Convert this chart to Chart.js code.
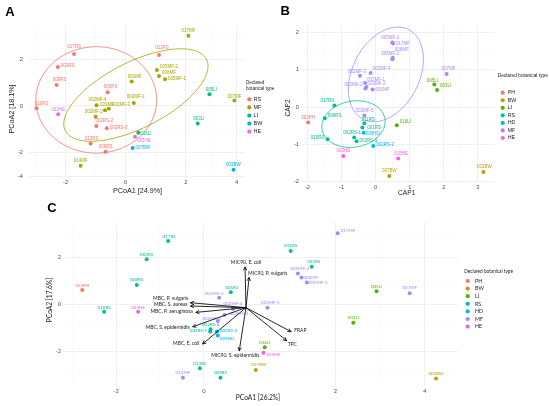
<!DOCTYPE html>
<html>
<head>
<meta charset="utf-8">
<title>Ordination of samples by declared botanical type</title>
<script src="https://cdn.jsdelivr.net/npm/chart.js@4.4.1/dist/chart.umd.min.js"></script>
<style>
  html, body { margin: 0; padding: 0; background: #fff; }
  #wrap { position: relative; width: 550px; height: 406px; overflow: hidden; }
  canvas { position: absolute; }
</style>
</head>
<body>
<div id="wrap">
  <canvas id="panelA" width="275" height="200" style="left:0;top:0"></canvas>
  <canvas id="panelB" width="275" height="200" style="left:275px;top:0"></canvas>
  <canvas id="panelC" width="550" height="206" style="left:0;top:200px"></canvas>
</div>
<script>
// ---------- panel A : PCoA ----------
const aTypes = ['RS', 'MF', 'LI', 'BW', 'HE'];
const aNames = ['017RS', '003RS', '009RS', '010RS', '005RS', '002RS-2', '002RS-3', '013RS', '009RS', '011RS',
  '017MF', '005MF-2', '006MF', '005MF-1', '001MF', '002MF-1', '002MF-4', '003MF', '002MF-3', '002MF-2', '007MF', '014MF',
  '005LI', '003LI', '016LI', '003BW', '007BW', '003HE', '015HE'];
const aGroup = ['RS', 'RS', 'RS', 'RS', 'RS', 'RS', 'RS', 'RS', 'RS', 'RS',
  'MF', 'MF', 'MF', 'MF', 'MF', 'MF', 'MF', 'MF', 'MF', 'MF', 'MF', 'MF',
  'LI', 'LI', 'LI', 'BW', 'BW', 'HE', 'HE'];
const aX = [-1.72, -2.26, -2.30, -2.97, -0.60, -0.98, -0.63, -1.17, -0.67, 1.11,
  2.09, 1.04, 1.11, 1.31, 0.20, 0.27, -0.97, -0.69, -0.56, -1.00, 3.62, -1.50,
  2.79, 2.40, 0.42, 3.59, 0.23, -2.25, 0.31];
const aY = [2.24, 1.68, 0.90, -0.10, 0.59, -0.86, -0.96, -1.62, -1.97, 2.19,
  3.02, 1.55, 1.29, 1.15, 1.05, 0.13, 0.03, -0.19, -0.12, -0.47, 0.23, -2.57,
  0.50, -0.76, -1.15, -2.75, -1.81, -0.36, -1.33];
const aXRange = [-3.22, 3.94];
const aYRange = [-3.10, 3.44];
const aXTicks = [-2, 0, 2, 3.69];
const aXTickLabels = ['-2', '0', '2', '4'];
const aYTicks = [-3.03, -2, 0, 2];
const aYTickLabels = ['-4', '-2', '0', '2'];
// confidence ellipses: centre and two half axes, in axis units
const aEllType = ['RS', 'MF'];
const aEllCentre = [[-0.98, 0.26], [0.34, 0.47]];
const aEllAxis1 = [[2.01, 0], [2.35, 1.54]];
const aEllAxis2 = [[0, 2.29], [0.50, -1.26]];

// ---------- panel B : CAP ----------
const bTypes = ['PH', 'BW', 'LI', 'RS', 'HD', 'MF', 'HE'];
const bNames = ['003PH', '007BW', '003BW', '005LI', '003LI', '016LI',
  '017RS', '009RS', '010RS', '011RS', '001RS', '002RS-1', '002RS-3', '009HD', '002RS-2',
  '005MF-1', '017MF', '006MF', '005MF-2', '002MF-4', '002MF-3', '002MF-1', '002MF-2', '003MF-2', '001MF', '007MF', '002MF-5',
  '003HE', '015HE'];
const bGroup = ['PH', 'BW', 'BW', 'LI', 'LI', 'LI',
  'RS', 'RS', 'RS', 'RS', 'RS', 'RS', 'RS', 'HD', 'HD',
  'MF', 'MF', 'MF', 'MF', 'MF', 'MF', 'MF', 'MF', 'MF', 'MF', 'MF', 'MF',
  'HE', 'HE'];
const bX = [-1.98, 0.40, 3.16, 1.72, 1.80, 0.62,
  -1.21, -1.49, -1.41, -0.33, -0.39, -0.63, -0.56, -0.35, -0.07,
  0.49, 0.51, 0.50, 0.49, -0.15, -0.46, -0.31, -0.30, -0.27, -0.09, 2.08, -0.33,
  -0.95, 0.66];
const bY = [-0.42, -1.86, -1.75, 0.61, 0.46, -0.49,
  0.04, -0.30, -0.87, -0.44, -0.55, -0.82, -0.92, -0.69, -1.05,
  1.74, 1.71, 1.33, 1.29, 0.92, 0.84, 0.65, 0.50, 0.54, 0.47, 0.89, -0.23,
  -1.32, -1.39];
const bXRange = [-2.16, 3.50];
const bYRange = [-2.02, 2.21];
const bXTicks = [-2, -1, 0, 1, 2, 3];
const bXTickLabels = ['-2', '-1', '0', '1', '2', '3'];
const bYTicks = [-2, -1, 0, 1, 2];
const bYTickLabels = ['-2', '-1', '0', '1', '2'];
const bEllType = ['MF', 'RS'];
const bEllCentre = [[0.30, 0.88], [-0.65, -0.46]];
const bEllAxis1 = [[0.66, 1.21], [0.92, 0.15]];
const bEllAxis2 = [[0.88, -0.40], [0.12, -0.61]];

// ---------- panel C : PCoA biplot ----------
const cTypes = ['PH', 'BW', 'LI', 'RS', 'HD', 'MF', 'HE'];
const cNames = ['003PH', '017RS', '003RS', '009RS', '010RS', '005RS', '011RS', '001RS', '002RS-3', '002RS-1', '013RS', '009RS',
  '002RS-2', '009HD',
  '017MF', '005MF-2', '006MF', '005MF-1', '007MF', '002MF-5', '002MF-4', '002MF-1', '002MF-3', '002MF-2', '014MF',
  '005LI', '003LI', '016LI', '007BW', '003BW', '003HE', '015HE'];
const cGroup = ['PH', 'RS', 'RS', 'RS', 'RS', 'RS', 'RS', 'RS', 'RS', 'RS', 'RS', 'RS',
  'HD', 'HD',
  'MF', 'MF', 'MF', 'MF', 'MF', 'MF', 'MF', 'MF', 'MF', 'MF', 'MF',
  'LI', 'LI', 'LI', 'BW', 'BW', 'HE', 'HE'];
const cX = [-3.66, -1.74, -2.22, -2.44, -3.17, -0.34, 1.00, 1.47, -0.79, -0.80, -1.03, -0.57,
  -0.65, -0.63,
  2.05, 1.16, 1.24, 1.36, 3.66, -0.60, -0.29, 0.48, -0.48, -0.63, -1.41,
  2.92, 2.40, 0.42, 0.22, 4.25, -2.41, 0.39];
const cY = [0.61, 2.68, 1.91, 0.82, -0.31, 0.51, 2.26, 1.59, -1.06, -1.15, -2.71, -3.11,
  -1.15, -1.32,
  3.01, 1.31, 1.14, 0.93, 0.47, 0.28, -0.20, -0.14, -0.45, -0.71, -3.11,
  0.56, -0.78, -1.82, -2.78, -3.14, -0.31, -2.05];
const cXRange = [-4.09, 4.74];
const cYRange = [-3.46, 3.49];
const cXTicks = [-2.905, -0.939, 2, 4];
const cXTickLabels = ['-2', '0', '2', '4'];
const cYTicks = [-2, 0, 2];
const cYTickLabels = ['-2', '0', '2'];
// fitted variable vectors (arrow tips) and their common origin
const cArrowNames = ['MIC90, E. coli', 'MIC90, P. vulgaris', 'MBC, P. vulgaris', 'MBC, S. aureus', 'MBC, P. aeruginosa',
  'MBC, S. epidermidis', 'MBC, E. coli', 'MIC90, S. epidermidis', 'FRAP', 'TPC'];
const cArrowX = [-0.02, 0.07, -1.24, -1.24, -1.12, -1.19, -0.97, -0.15, 1.01, 0.91];
const cArrowY = [1.59, 1.14, 0.07, -0.07, -0.34, -0.95, -1.68, -1.97, -1.16, -1.54];
const cArrowOrigin = [0, -0.14];

// ---------- colours and label placement (px offsets from the mark) ----------
const colorsA = ['#F8766D', '#A3A500', '#00BF7D', '#00B0F6', '#E76BF3'];
const colorsBC = ['#F8766D', '#C49A00', '#53B400', '#00C094', '#00B6EB', '#A58AFF', '#FB61D7'];

const aLabelAt = [[0, -7, 'c'], [3, -1, 'l'], [3, -5, 'c'], [5, -5, 'c'], [3, -5, 'c'], [8, -5, 'c'], [3, 0, 'l'], [1, -5, 'c'], [0, -5, 'c'], [3, -7, 'c'],
  [0, -5, 'c'], [3, -3, 'l'], [3, -3, 'l'], [3, 0, 'l'], [3, -5, 'c'], [2, -6, 'c'], [1, -5, 'c'], [2, -6, 'c'], [3, -4, 'l'], [-2, -5, 'c'], [0, -4, 'c'], [0, -5, 'c'],
  [2, -5, 'c'], [1, -5, 'c'], [2, 1, 'l'], [0, -5, 'c'], [3, 0, 'l'], [0, -5, 'c'], [2, 4, 'l']];
const bLabelAt = [[0, -5, 'c'], [0, -5, 'c'], [1, -5, 'c'], [-2, -4, 'c'], [3, -4, 'l'], [3, -3, 'l'],
  [-7, -5, 'c'], [3, -2, 'l'], [-3, -2, 'r'], [4, -4, 'c'], [5, 0, 'l'], [-2, -5, 'c'], [3, 0, 'l'], [2, 1, 'l'], [3, -1, 'l'],
  [-2, -5, 'c'], [3, 0, 'l'], [2, -8, 'l'], [-2, -5, 'c'], [2, -4, 'l'], [-3, -4, 'c'], [2, -3, 'l'], [-3, -4, 'r'], [1, -3, 'l'], [3, 0, 'l'], [2, -5, 'c'], [0, -5, 'c'],
  [0, -5, 'c'], [3, -5, 'c']];
const cLabelAt = [[0, -4.5, 'c'], [1, -5, 'c'], [0, -5, 'c'], [0, -5, 'c'], [0, -4.5, 'c'], [1, -5, 'c'], [0, -5, 'c'], [2, -5, 'c'], [0, -4.5, 'c'], [-3, -0.5, 'r'], [0, -5, 'c'], [0, -5, 'c'],
  [3, -1, 'l'], [2, 3, 'l'],
  [3, -3, 'l'], [2, -4.5, 'c'], [2, 0, 'l'], [2, 0, 'l'], [0, -5.5, 'c'], [-5, -4.5, 'c'], [0, -6, 'c'], [3, -5, 'c'], [5, -1, 'l'], [-6, -3, 'c'], [0, -5, 'c'],
  [0, -5, 'c'], [0, -5, 'c'], [0, -4.5, 'c'], [3, -5, 'c'], [0, -5, 'c'], [0, -4.5, 'c'], [3, 2, 'l']];
const cArrowLabelAt = [[1, -4.5, 'c'], [-1, -4, 'l'], [-2, -4.5, 'r'], [-3, -2, 'r'], [-3, -0.5, 'r'],
  [-3, 0.5, 'r'], [-3, -1, 'r'], [-4, 4.5, 'c'], [3, -1, 'l'], [1, 3.5, 'l']];

const SANS = "'Liberation Sans', Arial, sans-serif";
const LATO = "Lato, 'Liberation Sans', sans-serif";
const ALIGN = { l: 'left', r: 'right', c: 'center' };

// ---------- helpers ----------
function pointSets(names, group, xs, ys, types, colors, labelAt) {
  return types.map((t, k) => ({
    label: t,
    data: names.map((n, i) => ({ x: xs[i], y: ys[i], name: n, at: labelAt[i], g: group[i] }))
      .filter(p => p.g === t),
    backgroundColor: colors[k],
    borderWidth: 0,
    pointRadius: 2
  }));
}

// major ticks plus the ggplot-style minor lines halfway between them
function tickList(major, labels, range) {
  const out = major.map((v, i) => ({ value: v, txt: labels[i], minor: false }));
  for (let i = 0; i < major.length - 1; i++) {
    out.push({ value: (major[i] + major[i + 1]) / 2, txt: '', minor: true });
  }
  const n = major.length;
  out.push({ value: major[0] - (major[1] - major[0]) / 2, txt: '', minor: true });
  out.push({ value: major[n - 1] + (major[n - 1] - major[n - 2]) / 2, txt: '', minor: true });
  return out.filter(t => t.value > range[0] && t.value < range[1]).sort((a, b) => a.value - b.value);
}

function axis(range, ticks, labels, pad, family, fit) {
  const list = tickList(ticks, labels, range);
  return {
    type: 'linear',
    min: range[0],
    max: range[1],
    afterBuildTicks: s => { s.ticks = list.map(t => ({ value: t.value, txt: t.txt, minor: t.minor })); },
    afterFit: fit,
    ticks: {
      autoSkip: false, maxRotation: 0, padding: pad, color: '#4D4D4D',
      font: { size: 5.7, family: family },
      callback: (v, i, ts) => ts[i].txt
    },
    grid: {
      drawTicks: false,
      color: c => (c.tick && c.tick.minor) ? '#F4F4F4' : '#EBEBEB',
      lineWidth: c => (c.tick && c.tick.minor) ? 0.45 : 0.75
    },
    border: { display: false }
  };
}

function ellipsePlugin(types, colors, ellType, centre, ax1, ax2) {
  return {
    id: 'ellipses',
    afterDatasetsDraw(chart) {
      const { ctx, scales: { x, y } } = chart;
      ctx.save();
      ctx.lineWidth = 0.8;
      ellType.forEach((t, k) => {
        ctx.beginPath();
        for (let i = 0; i <= 120; i++) {
          const a = i / 120 * Math.PI * 2;
          const vx = centre[k][0] + ax1[k][0] * Math.cos(a) + ax2[k][0] * Math.sin(a);
          const vy = centre[k][1] + ax1[k][1] * Math.cos(a) + ax2[k][1] * Math.sin(a);
          const px = x.getPixelForValue(vx), py = y.getPixelForValue(vy);
          if (i === 0) ctx.moveTo(px, py); else ctx.lineTo(px, py);
        }
        ctx.strokeStyle = colors[types.indexOf(t)];
        ctx.stroke();
      });
      ctx.restore();
    }
  };
}

function labelPlugin(size, family) {
  return {
    id: 'pointLabels',
    afterDatasetsDraw(chart) {
      const ctx = chart.ctx;
      ctx.save();
      ctx.font = size + 'px ' + family;
      ctx.textBaseline = 'middle';
      chart.data.datasets.forEach((ds, i) => {
        ctx.fillStyle = ds.backgroundColor;
        chart.getDatasetMeta(i).data.forEach((el, j) => {
          const p = ds.data[j];
          ctx.textAlign = ALIGN[p.at[2]];
          ctx.fillText(p.name, el.x + p.at[0], el.y + p.at[1]);
        });
      });
      ctx.restore();
    }
  };
}

function arrowPlugin() {
  return {
    id: 'arrows',
    afterDatasetsDraw(chart) {
      const { ctx, scales: { x, y } } = chart;
      const ox = x.getPixelForValue(cArrowOrigin[0]);
      const oy = y.getPixelForValue(cArrowOrigin[1]);
      ctx.save();
      ctx.strokeStyle = '#000';
      ctx.lineWidth = 0.85;
      ctx.font = '5px ' + LATO;
      ctx.fillStyle = '#1A1A1A';
      ctx.textBaseline = 'middle';
      cArrowNames.forEach((n, i) => {
        const tx = x.getPixelForValue(cArrowX[i]), ty = y.getPixelForValue(cArrowY[i]);
        ctx.beginPath();
        ctx.moveTo(ox, oy);
        ctx.lineTo(tx, ty);
        ctx.stroke();
        const ang = Math.atan2(ty - oy, tx - ox), h = 3.8, w = 0.45;
        ctx.beginPath();
        ctx.moveTo(tx - h * Math.cos(ang - w), ty - h * Math.sin(ang - w));
        ctx.lineTo(tx, ty);
        ctx.lineTo(tx - h * Math.cos(ang + w), ty - h * Math.sin(ang + w));
        ctx.stroke();
        const at = cArrowLabelAt[i];
        ctx.textAlign = ALIGN[at[2]];
        ctx.fillText(n, tx + at[0], ty + at[1]);
      });
      ctx.restore();
    }
  };
}

// panel letter, axis titles and legend
function framePlugin(f) {
  return {
    id: 'frame',
    afterDraw(chart) {
      const ctx = chart.ctx;
      ctx.save();
      ctx.textAlign = 'center';
      ctx.textBaseline = 'middle';
      ctx.fillStyle = '#000';
      ctx.font = 'bold 13px ' + SANS;
      ctx.fillText(f.letter, f.letterAt[0], f.letterAt[1]);
      ctx.fillStyle = '#1A1A1A';
      ctx.font = f.titleSize + 'px ' + f.family;
      ctx.fillText(f.xTitle, f.xTitleAt[0], f.xTitleAt[1]);
      ctx.save();
      ctx.translate(f.yTitleAt[0], f.yTitleAt[1]);
      ctx.rotate(-Math.PI / 2);
      ctx.fillText(f.yTitle, 0, 0);
      ctx.restore();
      ctx.textAlign = 'left';
      ctx.font = f.legTitleSize + 'px ' + f.family;
      f.legTitle.forEach((t, i) => ctx.fillText(t, f.legX, f.legTitleY + i * 6));
      ctx.font = f.legSize + 'px ' + f.family;
      f.types.forEach((t, i) => {
        const yy = f.legY + i * f.legGap;
        ctx.fillStyle = f.colors[i];
        ctx.beginPath();
        ctx.arc(f.legDotX, yy, 2.1, 0, Math.PI * 2);
        ctx.fill();
        ctx.fillStyle = '#1A1A1A';
        ctx.fillText(t, f.legTextX, yy);
      });
      ctx.restore();
    }
  };
}

function makePanel(id, o) {
  const cv = document.getElementById(id);
  const W = cv.width, H = cv.height;
  return new Chart(cv, {
    type: 'scatter',
    data: { datasets: o.datasets },
    options: {
      responsive: false,
      animation: false,
      events: [],
      layout: { padding: { left: 0, top: o.area.top, right: W - o.area.right, bottom: 0 } },
      scales: {
        x: axis(o.xRange, o.xTicks, o.xTickLabels, o.xPad, o.family, s => { s.height = H - o.area.bottom; }),
        y: axis(o.yRange, o.yTicks, o.yTickLabels, o.yPad, o.family, s => { s.width = o.area.left; })
      },
      plugins: { legend: { display: false }, tooltip: { enabled: false } }
    },
    plugins: o.plugins
  });
}

// ---------- build ----------
makePanel('panelA', {
  datasets: pointSets(aNames, aGroup, aX, aY, aTypes, colorsA, aLabelAt),
  area: { left: 29, top: 26, right: 244, bottom: 178 },
  xRange: aXRange, yRange: aYRange,
  xTicks: aXTicks, xTickLabels: aXTickLabels, yTicks: aYTicks, yTickLabels: aYTickLabels,
  xPad: 1.5, yPad: 6, family: SANS,
  plugins: [
    ellipsePlugin(aTypes, colorsA, aEllType, aEllCentre, aEllAxis1, aEllAxis2),
    labelPlugin(4.5, SANS),
    framePlugin({
      letter: 'A', letterAt: [10, 12], family: SANS, titleSize: 7.2,
      xTitle: 'PCoA1 [24.9%]', xTitleAt: [137.5, 191.5],
      yTitle: 'PCoA2 [18.1%]', yTitleAt: [12.5, 109],
      legTitle: ['Declared', 'botanical type'], legTitleSize: 4.6, legX: 246, legTitleY: 82.3,
      types: aTypes, colors: colorsA, legSize: 5.5, legY: 99.3, legGap: 8.1, legDotX: 249.3, legTextX: 253.5
    })
  ]
});

makePanel('panelB', {
  datasets: pointSets(bNames, bGroup, bX, bY, bTypes, colorsBC, bLabelAt),
  area: { left: 27, top: 25, right: 220, bottom: 182 },
  xRange: bXRange, yRange: bYRange,
  xTicks: bXTicks, xTickLabels: bXTickLabels, yTicks: bYTicks, yTickLabels: bYTickLabels,
  xPad: 2, yPad: 3, family: SANS,
  plugins: [
    ellipsePlugin(bTypes, colorsBC, bEllType, bEllCentre, bEllAxis1, bEllAxis2),
    labelPlugin(4.5, SANS),
    framePlugin({
      letter: 'B', letterAt: [10.3, 11.7], family: SANS, titleSize: 6.6,
      xTitle: 'CAP1', xTitleAt: [131.7, 192.7],
      yTitle: 'CAP2', yTitleAt: [13.3, 108],
      legTitle: ['Declared botanical type'], legTitleSize: 4.8, legX: 222.7, legTitleY: 76,
      types: bTypes, colors: colorsBC, legSize: 5.3, legY: 92.7, legGap: 7.55, legDotX: 227.7, legTextX: 232.7
    })
  ]
});

makePanel('panelC', {
  datasets: pointSets(cNames, cGroup, cX, cY, cTypes, colorsBC, cLabelAt),
  area: { left: 63, top: 22, right: 458, bottom: 186 },
  xRange: cXRange, yRange: cYRange,
  xTicks: cXTicks, xTickLabels: cXTickLabels, yTicks: cYTicks, yTickLabels: cYTickLabels,
  xPad: 2, yPad: 2, family: LATO,
  plugins: [
    labelPlugin(4.5, LATO),
    arrowPlugin(),
    framePlugin({
      letter: 'C', letterAt: [52, 8.7], family: LATO, titleSize: 6.6,
      xTitle: 'PCoA1 [26.2%]', xTitleAt: [258, 198],
      yTitle: 'PCoA2 [17.6%]', yTitleAt: [50, 100],
      legTitle: ['Declared botanical type'], legTitleSize: 4.7, legX: 464.3, legTitleY: 71.7,
      types: cTypes, colors: colorsBC, legSize: 5.3, legY: 81, legGap: 7.6, legDotX: 467.7, legTextX: 475
    })
  ]
});
</script>
</body>
</html>
